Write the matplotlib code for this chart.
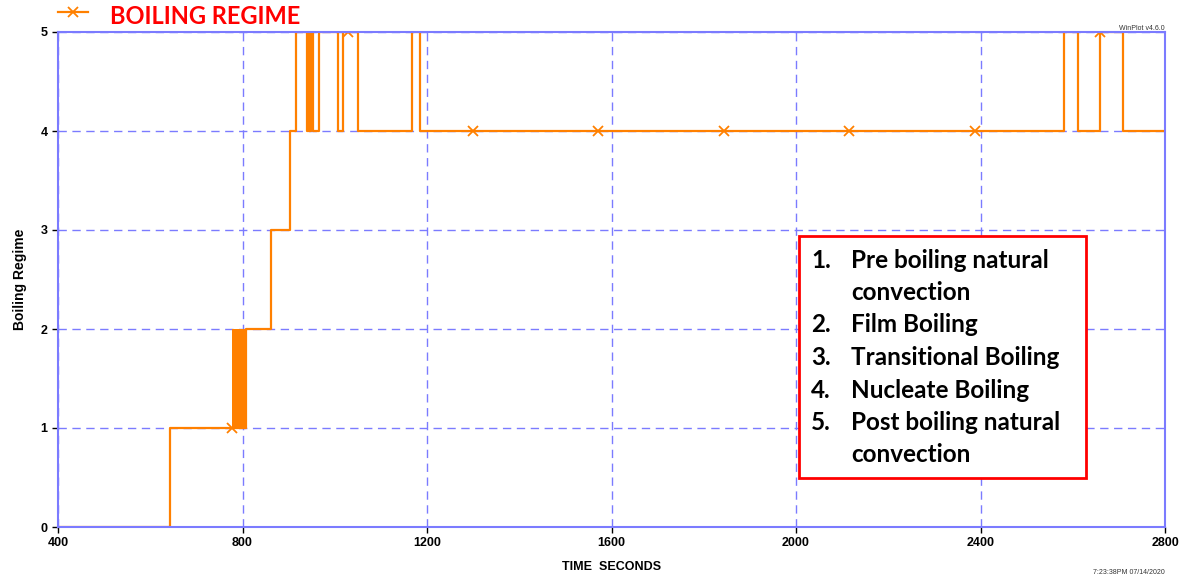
import numpy as np
import matplotlib.pyplot as plt
from matplotlib.lines import Line2D
from matplotlib.patches import Rectangle

# step changes of the boiling regime (time s -> regime after the change)
step_t = [400, 643, 808, 862, 903, 916, 939, 942, 945, 948, 953,
          966, 1008, 1018, 1050, 1167, 1185, 2580, 2612, 2658, 2710, 2800]
step_y = [0, 1, 2, 3, 4, 5, 4, 5, 4, 5, 4,
          5, 4, 5, 4, 5, 4, 5, 4, 5, 4, 4]

# region where the regime flickers between 1 and 2
flicker_t = [777, 808]
flicker_y = [1, 2]

marker_t = [777, 1029, 1300, 1571, 1843, 2115, 2387, 2659]
marker_y = [1, 5, 4, 4, 4, 4, 4, 5]

xticks = [400, 800, 1200, 1600, 2000, 2400, 2800]
yticks = [0, 1, 2, 3, 4, 5]

regimes = ["Pre boiling natural\nconvection", "Film Boiling", "Transitional Boiling",
           "Nucleate Boiling", "Post boiling natural\nconvection"]

orange = "#ff8000"
blue = "#7b7bff"

fig = plt.figure(figsize=(11.84, 5.77), dpi=100)
ax = fig.add_axes([58 / 1184, 1 - 527 / 577, (1165 - 58) / 1184, (527 - 32) / 577])

ax.step(step_t, step_y, where="post", color=orange, lw=1.6, zorder=2)
ax.fill_between(flicker_t, flicker_y[0], flicker_y[1], color=orange, lw=0, zorder=2)
ax.plot(marker_t, marker_y, ls="none", marker="x", ms=7, mew=1.3, color=orange, zorder=2)

ax.set_xlim(400, 2800)
ax.set_ylim(0, 5)
ax.set_xticks(xticks)
ax.set_yticks(yticks)
ax.grid(True, color=blue, ls=(0, (6, 4)), lw=1)
ax.set_axisbelow(True)
for s in ax.spines.values():
    s.set_color(blue)
    s.set_linewidth(1.5)
    s.set_zorder(2.5)
ax.tick_params(colors="black", length=4, width=1, labelsize=9)
for lab in ax.get_xticklabels() + ax.get_yticklabels():
    lab.set_fontweight("bold")
    lab.set_fontfamily("Liberation Sans")

ax.set_xlabel("TIME  SECONDS", fontsize=9, fontweight="bold", family="Liberation Sans", labelpad=8)
ax.set_ylabel("Boiling Regime", fontsize=10, fontweight="bold", family="Liberation Sans", labelpad=10)

# legend-like header
fig.add_artist(Line2D([58 / 1184, 88 / 1184], [1 - 12 / 577] * 2, color=orange, lw=1.6,
                      transform=fig.transFigure))
fig.add_artist(Line2D([73 / 1184], [1 - 12 / 577], color=orange, marker="x", ms=7, mew=1.3,
                      transform=fig.transFigure))
fig.text(110 / 1184, 1 - 16 / 577, "BOILING REGIME", color="#ff0000", fontsize=17,
         fontweight="bold", family="Lato", va="center", ha="left")

fig.text(1165 / 1184, 1 - 28 / 577, "WinPlot v4.6.0", fontsize=5, ha="right", va="center",
         family="Liberation Sans", color="#333333")
fig.text(1165 / 1184, 1 - 572 / 577, "7:23:38PM 07/14/2020", fontsize=5, ha="right", va="center",
         family="Liberation Sans", color="#333333")

# numbered description box
fig.add_artist(Rectangle((799 / 1184, 1 - 478 / 577), (1086 - 799) / 1184, (478 - 236) / 577,
                         fill=True, facecolor="white", edgecolor="#ff0000", lw=2,
                         transform=fig.transFigure, zorder=5))
y = 260
for i, name in enumerate(regimes):
    fig.text(811 / 1184, 1 - y / 577, f"{i + 1}.", fontsize=17.5, fontweight="bold",
             family="Lato", va="center", zorder=6)
    for part in name.split("\n"):
        fig.text(851 / 1184, 1 - y / 577, part, fontsize=17.5, fontweight="bold",
                 family="Lato", va="center", zorder=6)
        y += 32.5

fig.savefig("out.png", dpi=100)
